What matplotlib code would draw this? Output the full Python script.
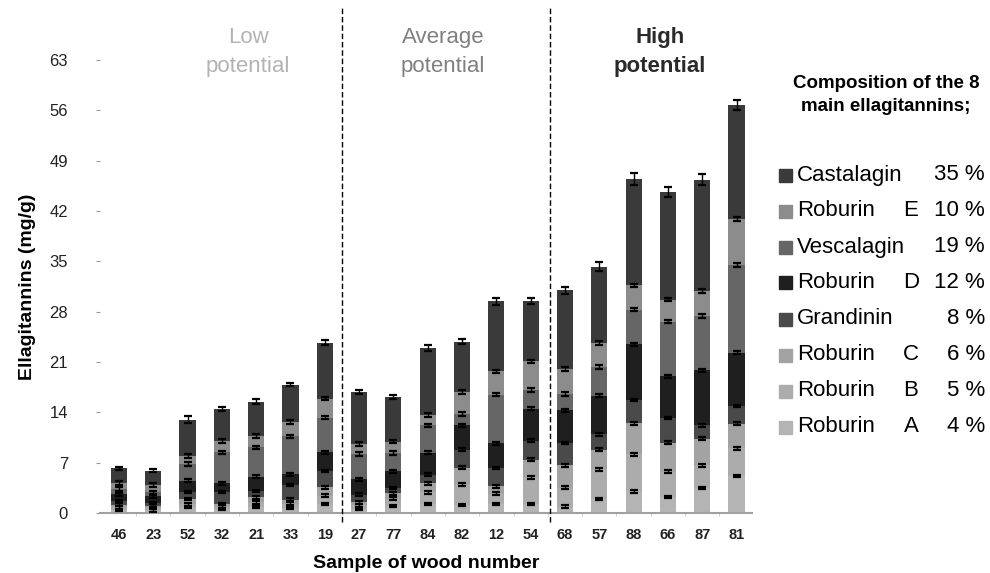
import numpy as np
import matplotlib
matplotlib.use("Agg")
import matplotlib.pyplot as plt
from matplotlib.patches import Rectangle

plt.rcParams['font.family'] = ['Liberation Sans', 'DejaVu Sans']

# sample numbers (x axis)
samples = ['46', '23', '52', '32', '21', '33', '19', '27', '77', '84', '82', '12', '54',
           '68', '57', '88', '66', '87', '81']

# stacked values, mg/g (bottom -> top)
roburin_a = [0.4, 0.35, 0.78, 0.5, 0.8, 0.7, 1.25, 0.58, 0.95, 1.27, 1.14, 1.27, 1.27,
             0.9, 1.97, 2.99, 2.2, 3.45, 5.12]
roburin_b = [0.4, 0.35, 0.42, 0.4, 0.7, 0.6, 1.15, 0.5, 1.02, 1.63, 2.78, 1.4, 3.71,
             2.6, 4.08, 5.15, 3.57, 3.16, 3.9]
roburin_c = [0.35, 0.3, 0.74, 0.35, 0.67, 0.55, 1.16, 0.42, 0.79, 1.25, 2.36, 1.06, 2.46,
             3.11, 2.78, 4.36, 3.99, 3.71, 3.38]
grandinin = [0.55, 0.4, 0.93, 1.62, 0.84, 2.04, 2.31, 1.07, 0.74, 1.2, 2.55, 2.55, 2.64,
             3.15, 2.09, 3.24, 3.43, 1.85, 2.46]
roburin_d = [0.93, 0.9, 1.62, 1.29, 2.03, 1.52, 2.55, 2.09, 2.32, 3.02, 3.34, 3.43, 4.41,
             4.5, 5.42, 7.7, 5.84, 7.65, 7.42]
vescalagin = [0.7, 0.57, 2.31, 4.26, 4.07, 5.23, 4.86, 3.57, 2.55, 3.8, 1.62, 6.77, 2.64,
              2.31, 3.94, 4.86, 7.6, 7.55, 12.24]
roburin_e = [0.83, 1.03, 1.16, 1.62, 1.62, 2.04, 2.62, 1.39, 1.57, 1.48, 3.01, 3.2, 3.94,
             3.48, 3.39, 3.34, 3.06, 3.48, 6.39]
castalagin = [2.08, 2.0, 5.0, 4.39, 4.77, 5.18, 7.8, 7.18, 6.16, 9.32, 7.05, 9.78, 8.39,
              10.9, 10.61, 14.84, 14.93, 15.53, 15.77]

# error on the total (top of each bar)
total_err = [0.2, 0.15, 0.5, 0.25, 0.3, 0.25, 0.3, 0.3, 0.3, 0.4, 0.35, 0.5, 0.4,
             0.5, 0.6, 0.8, 0.7, 0.8, 0.7]
# typical error of the other compounds
part_err = [0.15, 0.2, 0.2, 0.15, 0.2, 0.25, 0.25]

names = ['Roburin A', 'Roburin B', 'Roburin C', 'Grandinin', 'Roburin D',
         'Vescalagin', 'Roburin E', 'Castalagin']
colors = ['#b4b4b4', '#acacac', '#a3a3a3', '#4a4a4a', '#1f1f1f', '#666666', '#8c8c8c', '#3a3a3a']

legend_names = ['Castalagin', 'Roburin', 'Vescalagin', 'Roburin', 'Grandinin', 'Roburin', 'Roburin', 'Roburin']
legend_letters = ['', 'E', '', 'D', '', 'C', 'B', 'A']
legend_pct = ['35 %', '10 %', '19 %', '12 %', '8 %', '6 %', '5 %', '4 %']

series = [roburin_a, roburin_b, roburin_c, grandinin, roburin_d, vescalagin, roburin_e, castalagin]

fig = plt.figure(figsize=(9.9, 5.73), dpi=100)
ax = fig.add_axes([100 / 990, 1 - 513 / 573, 652 / 990, 453 / 573])

x = np.arange(len(samples))
bottom = np.zeros(len(samples))
for i, vals in enumerate(series):
    vals = np.array(vals)
    ax.bar(x, vals, 0.47, bottom=bottom, color=colors[i], zorder=2)
    err = total_err if i == len(series) - 1 else part_err[i]
    ax.errorbar(x, bottom + vals, yerr=err, fmt='none', ecolor='black',
                elinewidth=1, capsize=3, capthick=1.6, zorder=3)
    bottom += vals

ax.set_xlim(-0.55, 18.45)
ax.set_ylim(0, 63)
ax.set_yticks(np.arange(0, 64, 7))
ax.set_xticks(x)
ax.set_xticklabels(samples, fontsize=10.5, fontweight='bold', color='#222222')
ax.set_xticks(x[:-1] + 0.5, minor=True)
ax.tick_params(axis='x', which='major', length=0, pad=11)
ax.tick_params(axis='x', which='minor', length=2, color='#c8c8c8')
ax.tick_params(axis='y', length=3, color='#999999', pad=20, labelsize=12, labelcolor='#222222')
for s in ['top', 'right', 'left']:
    ax.spines[s].set_visible(False)
ax.spines['bottom'].set_color('#a0a0a0')
ax.spines['bottom'].set_linewidth(1.5)

ax.set_xlabel('Sample of wood number', fontsize=14, fontweight='bold', labelpad=9)
ax.set_ylabel('Ellagitannins (mg/g)', fontsize=14, fontweight='bold', labelpad=10)

# group separators
for xs in [6.5, 12.55]:
    ax.plot([xs, xs], [-1.2, 70.2], ls=(0, (4, 2)), color='black', lw=1, clip_on=False, zorder=4)

fig.text(248 / 990, 1 - 52 / 573, 'Low\npotential', ha='center', va='center',
         fontsize=16, color='#b3b3b3', linespacing=1.5)
fig.text(443 / 990, 1 - 52 / 573, 'Average\npotential', ha='center', va='center',
         fontsize=16, color='#808080', linespacing=1.5)
fig.text(660 / 990, 1 - 52 / 573, 'High\npotential', ha='center', va='center',
         fontsize=16, color='#2a2a2a', fontweight='bold', linespacing=1.5)

# legend drawn by hand
fig.text(886 / 990, 1 - 95 / 573, 'Composition of the 8\nmain ellagitannins;', ha='center', va='center',
         fontsize=13.5, fontweight='bold', linespacing=1.4)
for k in range(8):
    yc = 1 - (175 + 36 * k) / 573
    fig.patches.append(Rectangle((779 / 990, yc - 6.5 / 573), 13 / 990, 13 / 573,
                                 transform=fig.transFigure, color=colors[7 - k]))
    fig.text(797 / 990, yc, legend_names[k], ha='left', va='center', fontsize=16)
    fig.text(911 / 990, yc, legend_letters[k], ha='center', va='center', fontsize=16)
    fig.text(985 / 990, yc, legend_pct[k], ha='right', va='center', fontsize=16)

fig.savefig('out.png', dpi=100)
